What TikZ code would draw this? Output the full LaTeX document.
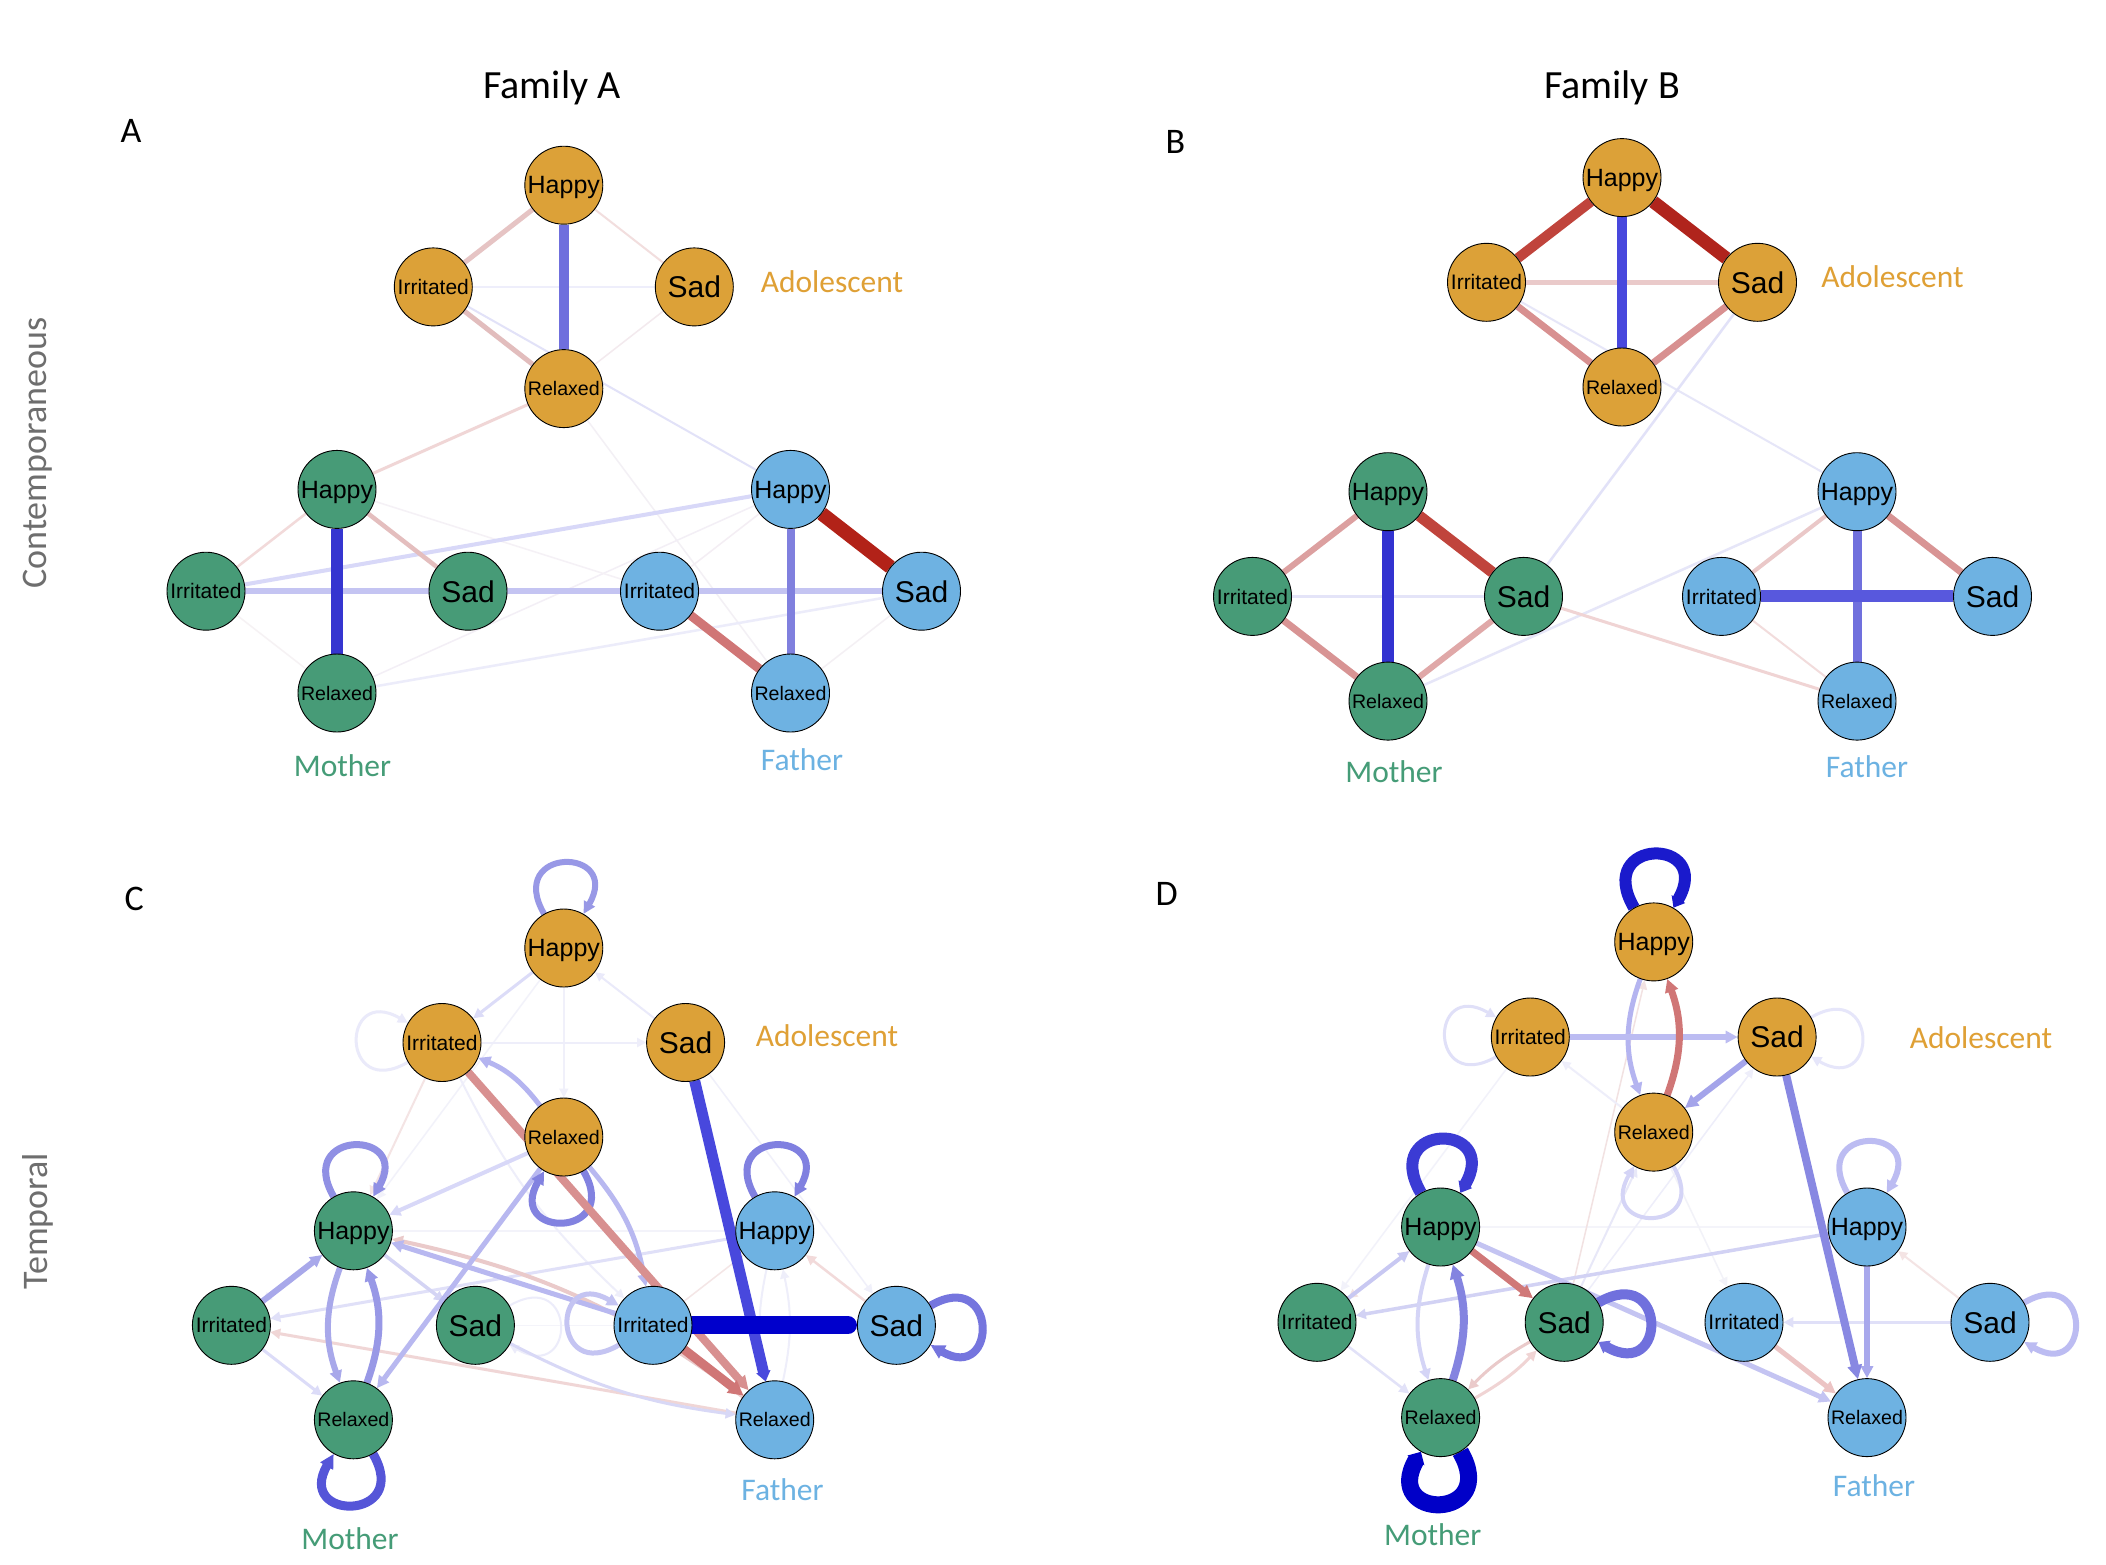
\documentclass[tikz,border=0pt]{standalone}
\usepackage{fontspec}
\setmainfont{Carlito}
\newfontfamily\nodefam{Liberation Sans}
\usetikzlibrary{arrows.meta}
\pgfdeclarelayer{bg}
\pgfsetlayers{bg,main}
\definecolor{adoc}{HTML}{DCA138}
\definecolor{momc}{HTML}{479B77}
\definecolor{dadc}{HTML}{6EB2E2}
\definecolor{adol}{HTML}{DFA035}
\definecolor{moml}{HTML}{459C77}
\definecolor{dadl}{HTML}{6CB2E2}
\definecolor{rowgray}{HTML}{6E6E6E}
\tikzset{
 nd/.style={circle, draw=black, line width=0.9pt, minimum size=78pt, inner sep=0pt, text depth=0pt},
 ado/.style={fill=adoc}, mom/.style={fill=momc}, dad/.style={fill=dadc},
 labH/.style={font=\nodefam\fontsize{25}{25}\selectfont},
 labI/.style={font=\nodefam\fontsize{21}{21}\selectfont},
 labS/.style={font=\nodefam\fontsize{30}{30}\selectfont},
 labR/.style={font=\nodefam\fontsize{19.6}{20}\selectfont},
 ed/.style n args={2}{/utils/exec={\definecolor{ec}{HTML}{#1}}, draw=ec, line width=#2pt},
 ah/.style={-{Triangle[length=#1pt,width=#1pt]}}, ah/.default=11,
 grp/.style={font=\fontsize{31.5}{32}\selectfont, anchor=base},
 ttl/.style={font=\fontsize{40}{40}\selectfont, anchor=base},
 plet/.style={font=\fontsize{36}{36}\selectfont, anchor=base west},
 rowl/.style={font=\fontsize{36}{36}\selectfont, text=rowgray, rotate=90},
}
\newcommand\emogrp[6]{%
  \node[nd,#2,labH] (#1H) at (#3,#4) {Happy};
  \node[nd,#2,labI] (#1I) at ({#3-#5},{#4+#6}) {Irritated};
  \node[nd,#2,labS] (#1S) at ({#3+#5},{#4+#6}) {Sad};
  \node[nd,#2,labR] (#1R) at ({#3},{#4+2*#6}) {Relaxed};}
\newcommand\selfloop[4]{%
  \pgfmathtruncatemacro\lpa{#3+30}%
  \pgfmathtruncatemacro\lpb{mod(#3+330,360)}%
  \draw[#1] (#2.\lpa) .. controls +(\lpa:#4pt) and +(\lpb:#4pt) .. (#2.\lpb);}
\begin{document}
\begin{tikzpicture}[x=1pt,y=-1pt]
\path[use as bounding box] (0,0) rectangle (2106,1564);
% titles
\node[ttl] (tA) at (552,98) {Family A};
\node[ttl] (tB) at (1612,98) {Family B};
\node[plet] (pA) at (117,142.5) {A};
\node[plet] (pB) at (1162,153) {B};
\node[plet] (pC) at (121,910) {C};
\node[plet] (pD) at (1152,905) {D};
\node[rowl] (r1) at (38,453) {Contemporaneous};
\node[rowl] (r2) at (38,1221) {Temporal};
% nodes
\emogrp{aA}{ado}{563.8}{185.2}{130.5}{101.7}
\emogrp{aM}{mom}{337}{489.4}{131}{101.8}
\emogrp{aF}{dad}{790.5}{489.4}{131}{101.8}
\emogrp{bA}{ado}{1622}{177.6}{135.5}{104.7}
\emogrp{bM}{mom}{1388}{491.7}{135.5}{104.7}
\emogrp{bF}{dad}{1857}{491.7}{135.5}{104.7}
\emogrp{cA}{ado}{563.8}{948}{121.8}{94.5}
\emogrp{cM}{mom}{353.4}{1230.8}{122}{94.5}
\emogrp{cF}{dad}{774.7}{1230.8}{121.7}{94.5}
\emogrp{dA}{ado}{1653.7}{941.9}{123.4}{95.1}
\emogrp{dM}{mom}{1440.6}{1227}{123.6}{95.3}
\emogrp{dF}{dad}{1867}{1227}{123}{95.3}
% group labels
\node[grp,text=adol] (la1) at (832,292) {Adolescent};
\node[grp,text=moml] (lm1) at (342.5,776) {Mother};
\node[grp,text=dadl] (lf1) at (802,770.7) {Father};
\node[grp,text=adol] (la2) at (1892.5,287.5) {Adolescent};
\node[grp,text=moml] (lm2) at (1394,782) {Mother};
\node[grp,text=dadl] (lf2) at (1867,777.5) {Father};
\node[grp,text=adol] (la3) at (827,1046.8) {Adolescent};
\node[grp,text=moml] (lm3) at (350,1549) {Mother};
\node[grp,text=dadl] (lf3) at (782.5,1500.7) {Father};
\node[grp,text=adol] (la4) at (1981,1048.6) {Adolescent};
\node[grp,text=moml] (lm4) at (1432.7,1545.8) {Mother};
\node[grp,text=dadl] (lf4) at (1874,1496) {Father};
\begin{pgfonlayer}{bg}
\fill[white] (0,0) rectangle (2106,1564);
% ---------------- Panel A
\draw[ed={F3EAEE}{1.5}] (aAS) -- (aAR);
\draw[ed={F3F0F5}{1.5}] (aAR) -- (aFR);
\draw[ed={F3EFF6}{1.5}] (aMR) -- (aFH);
\draw[ed={F5F1F6}{1.5}] (aMH) -- (aFI);
\draw[ed={F6F2F4}{1.5}] (aMI) -- (aMR);
\draw[ed={F4F0F4}{1.5}] (aFS) -- (aFR);
\draw[ed={F4EEF4}{1.5}] (aFH) -- (aFI);
\draw[ed={F2DEDE}{2}] (aAH) -- (aAS);
\draw[ed={EEEEFB}{2.5}] (aAI) -- (aAS);
\draw[ed={E2E2F8}{2}] (aAI) -- (aFH);
\draw[ed={ECECFA}{2.5}] (aMR) -- (aFS);
\draw[ed={F2DADA}{2.5}] (aMH) -- (aMI);
\draw[ed={F0D6D6}{3}] (aAR) -- (aMH);
\draw[ed={D8D8F8}{4}] (aMI) -- (aFH);
\draw[ed={E4BEBE}{4.5}] (aMH) -- (aMS);
\draw[ed={E6C4C4}{5}] (aAH) -- (aAI);
\draw[ed={E2BDBD}{5}] (aAI) -- (aAR);
\draw[ed={C4C4F2}{6}] (aMI) -- (aMS);
\draw[ed={C4C4F2}{6}] (aMS) -- (aFI);
\draw[ed={C4C4F2}{6}] (aFI) -- (aFS);
\draw[ed={8080DE}{8}] (aFH) -- (aFR);
\draw[ed={D07676}{9}] (aFI) -- (aFR);
\draw[ed={6F6FDD}{10}] (aAH) -- (aAR);
\draw[ed={3535D0}{12}] (aMH) -- (aMR);
\draw[ed={B22218}{14}] (aFH) -- (aFS);
% ---------------- Panel B
\draw[ed={F2DCDC}{2}] (bFI) -- (bFR);
\draw[ed={E6E6F8}{2}] (bAI) -- (bFH);
\draw[ed={E2E2F8}{2.5}] (bAS) -- (bMS);
\draw[ed={E6E6F8}{2.5}] (bMR) -- (bFH);
\draw[ed={F0D4D4}{3}] (bMS) -- (bFR);
\draw[ed={E4E4F8}{3.5}] (bMI) -- (bMS);
\draw[ed={EAC8C8}{4}] (bFH) -- (bFI);
\draw[ed={EACACA}{5}] (bAI) -- (bAS);
\draw[ed={DCA0A0}{6}] (bMH) -- (bMI);
\draw[ed={E0A8A8}{6}] (bMS) -- (bMR);
\draw[ed={D89494}{7}] (bMI) -- (bMR);
\draw[ed={D89090}{7}] (bAI) -- (bAR);
\draw[ed={D89090}{7}] (bAS) -- (bAR);
\draw[ed={D89494}{7}] (bFH) -- (bFS);
\draw[ed={7070DD}{9}] (bFH) -- (bFR);
\draw[ed={C0443C}{10}] (bAH) -- (bAI);
\draw[ed={4848DD}{10}] (bAH) -- (bAR);
\draw[ed={C0443C}{11}] (bMH) -- (bMS);
\draw[ed={5858DD}{12}] (bFI) -- (bFS);
\draw[ed={3232D0}{12}] (bMH) -- (bMR);
\draw[ed={B0241C}{13}] (bAH) -- (bAS);
% ---------------- Panel C
\draw[ed={F2F2FA}{1.5},ah=9] (cAH) -- (cMH);
\draw[ed={F4E4E4}{2},ah=9] (cAI) -- (cMH);
\draw[ed={F0F0FA}{1.5},ah=9] (cAS) -- (cFS);
\draw[ed={F3F3FA}{1.5}] (cMH) -- (cFH);
\draw[ed={F4E6E6}{1.5},ah=9] (cFI) -- (cFH);
\draw[ed={F4F4FA}{1.5}] (cMS) -- (cFI);
\draw[ed={EEEEFA}{2},ah=9] (cAI) to[bend right=10] (cFI);
\draw[ed={F0F0FA}{1.5},ah=9] (cAH) -- (cAR);
\draw[ed={EAEAFA}{2},ah=9] (cAS) -- (cAH);
\draw[ed={EEEEFA}{2},ah=9] (cAI) -- (cAS);
\draw[ed={F0F0FA}{2},ah=9] (cMH) -- (cMI);
\draw[ed={EEEEFA}{2},ah=9] (cFR) to[bend right=12] (cFH);
\draw[ed={EEEEFA}{2},ah=9] (cFH) to[bend right=12] (cFR);
\draw[ed={F2DADA}{2.5},ah=10] (cFS) -- (cFH);
\selfloop{ed={ECECFA}{2},ah=9}{cMS}{0}{78}
\selfloop{ed={EAEAFA}{3},ah=10}{cAI}{180}{78}
\draw[ed={DCDCF8}{3},ah=10] (cMI) -- (cMR);
\draw[ed={E0E0F8}{3},ah=10] (cFH) -- (cMI);
\draw[ed={F0D6D6}{3},ah=10] (cFR) -- (cMI);
\draw[ed={D8D8F6}{3},ah=10] (cMS) to[bend right=10] (cFR);
\draw[ed={DCDCF8}{3},ah=10] (cAH) -- (cAI);
\draw[ed={D4D4F4}{3.5},ah=10] (cMH) -- (cMS);
\draw[ed={D8D8F8}{4},ah=11] (cAR) -- (cMH);
\draw[ed={EACACA}{4},ah=11] (cFR) to[bend right=12] (cMH);
\draw[ed={B8B8F0}{5},ah=12] (cFI) -- (cMH);
\draw[ed={B8B8F0}{5},ah=12] (cAR) -- (cMR);
\draw[ed={B4B4F0}{5},ah=12] (cAR) to[bend right=15] (cAI);
\draw[ed={B8B8F0}{5},ah=12] (cAR) to[bend left=15] (cFI);
\selfloop{ed={C4C4F2}{5},ah=12}{cFI}{180}{78}
\draw[ed={A8A8EA}{6},ah=12] (cMI) -- (cMH);
\draw[ed={A8A8EA}{6},ah=12] (cMH) to[bend right=20] (cMR);
\draw[ed={9898E6}{7},ah=13] (cMR) to[bend right=20] (cMH);
\selfloop{ed={9898E6}{6},ah=12}{cAH}{90}{78}
\selfloop{ed={9090E4}{7},ah=13}{cMH}{90}{78}
\selfloop{ed={8080E0}{7},ah=13}{cFH}{90}{78}
\selfloop{ed={8282E0}{7},ah=13}{cAR}{270}{78}
\selfloop{ed={7575DE}{8},ah=14}{cFS}{0}{78}
\selfloop{ed={5555D8}{9},ah=14}{cMR}{270}{78}
\draw[ed={D89090}{8},ah=14] (cAI) -- (cFR);
\draw[ed={D07676}{9},ah=15] (cFI) -- (cFR);
\draw[ed={4848DD}{11},-{Triangle[length=10pt,width=14pt]}] (cAS) -- (cFR);
\draw[ed={0000CC}{18},line cap=round,shorten >=9pt] (cFI) -- (cFS);
% ---------------- Panel D
\draw[ed={F4F4FA}{1.5}] (dMH) -- (dFH);
\draw[ed={F2F2FA}{1.5},ah=9] (dAI) -- (dMI);
\draw[ed={F2F2F8}{1.5},ah=9] (dAR) -- (dFI);
\draw[ed={F2E2E2}{1.5},ah=9] (dMS) -- (dAH);
\draw[ed={E8E8F8}{2},ah=9] (dMS) -- (dAR);
\draw[ed={EEEEFA}{1.5},ah=9] (dMS) -- (dAS);
\draw[ed={EEEEFA}{2},ah=9] (dAR) -- (dAI);
\draw[ed={F4E4E4}{2},ah=9] (dFS) -- (dFH);
\draw[ed={F2E2E2}{2},ah=9] (dMH) -- (dMI);
\draw[ed={E2E2F8}{2.5},ah=10] (dMI) -- (dMR);
\draw[ed={EACACA}{3},ah=10] (dMS) to[bend right=8] (dMR);
\draw[ed={F0D4D4}{3},ah=10] (dMR) to[bend right=8] (dMS);
\draw[ed={E0E0F8}{3},ah=10] (dFS) -- (dFI);
\selfloop{ed={E0E0F8}{3},ah=10}{dAI}{180}{78}
\selfloop{ed={E6E6FA}{3},ah=10}{dAS}{0}{78}
\selfloop{ed={D4D4F6}{4},ah=11}{dAR}{270}{78}
\draw[ed={D2D2F4}{3.5},ah=10] (dFH) -- (dMI);
\draw[ed={C8C8F2}{4},ah=11] (dMI) -- (dMH);
\draw[ed={D4D4F6}{4},ah=11] (dMH) to[bend right=18] (dMR);
\draw[ed={ECC4C4}{5},ah=12] (dFI) -- (dFR);
\draw[ed={C4C4F2}{5},ah=12] (dMH) -- (dFR);
\draw[ed={B4B4F0}{5},ah=12] (dAH) to[bend right=20] (dAR);
\selfloop{ed={BCBCF2}{6},ah=12}{dFH}{90}{78}
\selfloop{ed={BCBCF2}{6},ah=12}{dFS}{0}{78}
\draw[ed={BCBCF2}{6},ah=12] (dAI) -- (dAS);
\draw[ed={A4A4EA}{6},ah=13] (dAS) -- (dAR);
\draw[ed={A8A8EC}{6},ah=12] (dFH) -- (dFR);
\draw[ed={D07878}{7},ah=13] (dMH) -- (dMS);
\draw[ed={D07676}{7},ah=13] (dAR) to[bend right=20] (dAH);
\draw[ed={8484E0}{8},ah=14] (dMR) to[bend right=18] (dMH);
\draw[ed={8888E2}{8},ah=14] (dAS) -- (dFR);
\selfloop{ed={7070DD}{10},-{Triangle[length=10pt,width=14pt]}}{dMS}{0}{80}
\selfloop{ed={1A1ACC}{12},-{Triangle[length=10pt,width=15pt]}}{dAH}{90}{82}
\selfloop{ed={3B3BD4}{12},-{Triangle[length=10pt,width=15pt]}}{dMH}{90}{82}
\selfloop{ed={0000C8}{17},-{Triangle[length=10pt,width=19pt]}}{dMR}{270}{80}
\end{pgfonlayer}
\end{tikzpicture}
\end{document}
